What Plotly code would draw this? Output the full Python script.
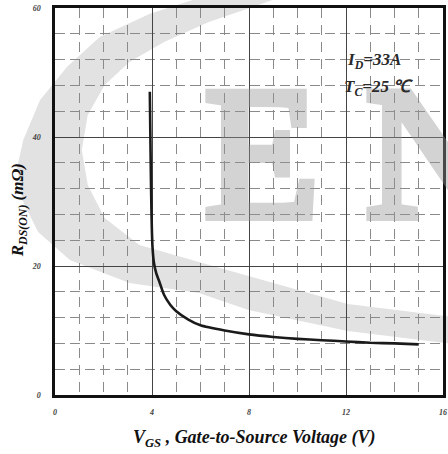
import plotly.graph_objects as go

# ---- data ----
vgs = [3.91, 3.93, 3.95, 3.98, 4.02, 4.08, 4.18, 4.3, 4.5, 4.75, 5.0, 5.5, 6.0, 7.0, 8.0, 9.0, 10.0, 11.0, 12.0, 13.0, 14.0, 15.0]
rds = [47.0, 41.0, 35.0, 28.0, 23.0, 20.5, 18.8, 17.6, 15.5, 14.0, 13.0, 11.7, 10.8, 10.0, 9.4, 9.0, 8.7, 8.5, 8.3, 8.1, 8.0, 7.85]
x_ticks = [0, 4, 8, 12, 16]
y_ticks = [0, 20, 40, 60]
x_range = [0, 16]
y_range = [0, 60]

# ---- layout geometry (pixels) ----
W, H = 448, 454
ML, MR, MT, MB = 55, 2, 8, 59
PW = W - ML - MR
PH = H - MT - MB

def px2paper(px, py):
    return (px - ML) / PW, (H - MB - py) / PH

# watermark crescent outline (pixel positions)
outer = [(320, -30), (250, -12), (200, -2), (150, 14), (100, 37), (67, 67), (40, 100), (23, 140),
         (17, 167), (22, 200), (38, 232), (70, 260), (130, 283), (200, 293), (250, 310),
         (350, 331), (448, 343), (480, 347)]
inner = [(480, 318), (448, 316), (350, 304), (250, 276), (200, 262), (140, 245), (105, 218),
         (88, 185), (82, 150), (88, 115), (105, 85), (130, 62), (165, 42), (210, 22), (260, 5), (330, -20)]
pts = [px2paper(*p) for p in outer + inner]
path = "M " + " L ".join(f"{x:.4f},{y:.4f}" for x, y in pts) + " Z"

font_fam = "Liberation Serif"

fig = go.Figure()
fig.add_trace(go.Scatter(
    x=vgs, y=rds, mode="lines",
    line=dict(color="#1a1a1a", width=2.6, shape="spline", smoothing=0.6),
    hoverinfo="skip", showlegend=False,
))

fig.add_shape(type="path", path=path, xref="paper", yref="paper",
              fillcolor="#e2e2e2", line=dict(width=0), layer="below")

wm_font = dict(family=font_fam, size=186, color="rgb(150,150,150)")
ann = []
# watermark letters (thickened and faded by the post script)
ann.append(dict(text="E", x=px2paper(204, 0)[0], y=px2paper(0, 153)[1], xref="paper", yref="paper",
                xanchor="left", yanchor="middle", showarrow=False, font=wm_font))
ann.append(dict(text="N", x=px2paper(366, 0)[0], y=px2paper(0, 153)[1], xref="paper", yref="paper",
                xanchor="left", yanchor="middle", showarrow=False, font=wm_font))

lab_font = dict(family=font_fam, size=17, color="#2a2a2a", weight="bold", style="italic")
ann.append(dict(text="I<sub>D</sub>=33A", x=px2paper(347, 0)[0], y=px2paper(0, 61)[1],
                xref="paper", yref="paper", xanchor="left", yanchor="middle", showarrow=False,
                font=lab_font))
ann.append(dict(text="T<sub>C</sub>=25 ℃", x=px2paper(344, 0)[0], y=px2paper(0, 88)[1],
                xref="paper", yref="paper", xanchor="left", yanchor="middle", showarrow=False,
                font=lab_font))

title_font = dict(family=font_fam, size=18, color="#111", weight="bold", style="italic")
ann.append(dict(text="V<sub>GS</sub> , Gate-to-Source Voltage (V)", x=px2paper(256, 0)[0],
                y=px2paper(0, 438)[1], xref="paper", yref="paper", xanchor="center",
                yanchor="middle", showarrow=False, font=title_font))
ann.append(dict(text="R<sub>DS(ON)</sub> (mΩ)", x=px2paper(19, 0)[0],
                y=px2paper(0, 210)[1], xref="paper", yref="paper", xanchor="center",
                yanchor="middle", showarrow=False, textangle=-90,
                font=dict(family=font_fam, size=17, color="#111", weight="bold", style="italic")))

tick_font = dict(family=font_fam, size=8, color="#444", weight="bold", style="italic")

fig.update_layout(
    width=W, height=H,
    margin=dict(l=ML, r=MR, t=MT, b=MB, pad=0),
    paper_bgcolor="white", plot_bgcolor="rgba(0,0,0,0)",
    annotations=ann, showlegend=False,
    xaxis=dict(range=x_range, tickvals=x_ticks, ticktext=[str(v) for v in x_ticks],
               tickfont=tick_font, ticks="", ticklabelstandoff=8,
               showline=True, linecolor="#111", linewidth=2.5, mirror=True,
               showgrid=True, gridcolor="#444", gridwidth=1.2, zeroline=False,
               minor=dict(dtick=1, tick0=0, showgrid=True, gridcolor="#8a8a8a",
                          griddash="10px,7px", gridwidth=1.2, ticks="")),
    yaxis=dict(range=y_range, tickvals=y_ticks, ticktext=[str(v) for v in y_ticks],
               tickfont=tick_font, ticks="", ticklabelstandoff=10,
               showline=True, linecolor="#111", linewidth=2.5, mirror=True,
               showgrid=True, gridcolor="#444", gridwidth=1.2, zeroline=False,
               minor=dict(dtick=4, tick0=0, showgrid=True, gridcolor="#8a8a8a",
                          griddash="10px,5px", gridwidth=1.2, ticks="")),
)

post = """
var gd = document.getElementById('{plot_id}');
gd.querySelectorAll('.annotation-text').forEach(function(t){
  var s = t.textContent;
  if (s === 'E' || s === 'N') {
    t.style.stroke = 'rgb(150,150,150)';
    t.style.strokeWidth = '10px';
    t.style.strokeLinejoin = 'miter';
    t.style.opacity = '0.41';
  }
});
"""

fig.write_html("out.html", post_script=post)
